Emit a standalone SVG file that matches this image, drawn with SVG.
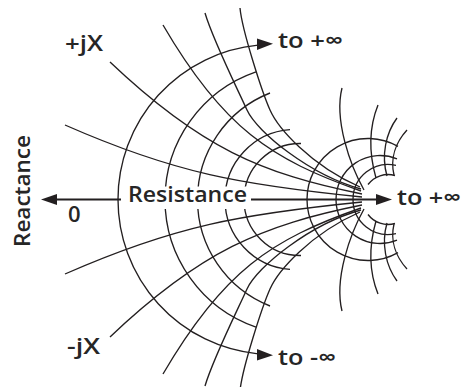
<svg xmlns="http://www.w3.org/2000/svg" xmlns:xlink="http://www.w3.org/1999/xlink" width="462" height="387" viewBox="0 0 462 387">
<style>
.m{fill:none;stroke:#231f20;stroke-width:1.35}
.ax{fill:none;stroke:#231f20;stroke-width:2}
.ah{fill:#231f20}
text{font-family:"Open Sans","Liberation Sans",sans-serif;font-size:22px;font-weight:600;fill:#262626}
</style>
<defs>
<g id="half">
<path class="m" d="M118,199.5 A155,155 0 0 1 258,45.2"/>
<polygon class="ah" points="273,43.8 257,38.6 257,50"/>
<path class="m" d="M165,199.5 A135,135 0 0 1 256,71.9"/>
<path class="m" d="M197.5,199.5 A114.5,114.5 0 0 1 270,93"/>
<path class="m" d="M225,199.5 A70,70 0 0 1 290,129.7"/>
<path class="m" d="M244,199.5 A56,56 0 0 1 301,143.5"/>
<path class="m" d="M307,199.5 A61,61 0 0 1 398,146.4"/>
<path class="m" d="M336,199.5 A44,44 0 0 1 397,158.9"/>
<path class="m" d="M353,199.5 A35,35 0 0 1 396,165.4"/>
<path class="m" d="M368,184.5 A25,25 0 0 1 395,175.5"/>
<path class="m" d="M65,125 C175,173.4 242,185 362,197"/>
<path class="m" d="M110,62 C200,147.5 262,174 362,194"/>
<path class="m" d="M163,25 C223,128 271,159.5 361,191"/>
<path class="m" d="M205,13 C213,40 237,88 247,110 C257,132 310,175 361,189"/>
<path class="m" d="M240,8 C242,30 262,92 270,110 C278,128 310,165 360,187"/>
<path class="m" d="M342,88 C334,120 350,165 364,190"/>
<path class="m" d="M378,105 C370,125 368,150 376,178"/>
<path class="m" d="M397,118 C386,133 381,155 387,176"/>
<path class="m" d="M407,130 C396,142 390,158 394,175"/>
</g>
</defs>
<g id="connectors">
<use xlink:href="#half" href="#half"/>
<use xlink:href="#half" href="#half" transform="matrix(1 0 0 -1 0 399)"/>
<line class="ax" x1="56" y1="199.5" x2="378" y2="199.5"/>
<polygon class="ah" points="41,199.5 57,194 57,205"/>
<polygon class="ah" points="392,199.5 376,194 376,205"/>
</g>
<rect x="121" y="186.5" width="130" height="22.5" fill="#fff"/>
<g id="labels">
<text x="65" y="51" textLength="38" lengthAdjust="spacingAndGlyphs">+jX</text>
<text x="67" y="354" textLength="33" lengthAdjust="spacingAndGlyphs">-jX</text>
<text x="68" y="222">0</text>
<text transform="translate(30,191) rotate(-90)" text-anchor="middle" textLength="112" lengthAdjust="spacingAndGlyphs">Reactance</text>
<text x="128" y="202" textLength="119" lengthAdjust="spacingAndGlyphs">Resistance</text>
<text x="278" y="48" textLength="65" lengthAdjust="spacingAndGlyphs">to +∞</text>
<text x="278" y="365" textLength="58" lengthAdjust="spacingAndGlyphs">to -∞</text>
<text x="397" y="205" textLength="64" lengthAdjust="spacingAndGlyphs">to +∞</text>
</g>
</svg>
